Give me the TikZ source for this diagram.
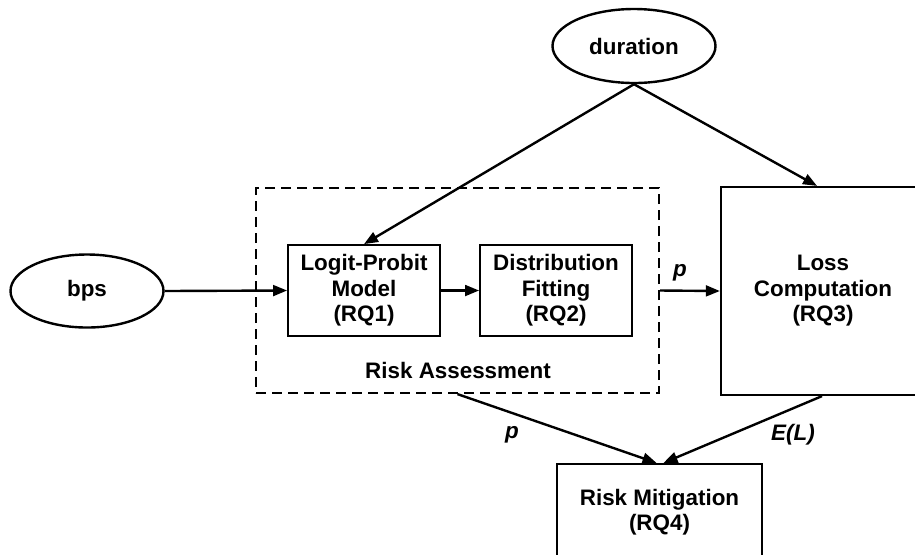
\documentclass[tikz,border=0pt]{standalone}
\usepackage{fontspec}
\setmainfont{Liberation Sans}
\usetikzlibrary{arrows.meta,shapes.geometric}
\tikzset{
  base/.style={font=\fontsize{11.2}{12.75}\selectfont\bfseries, align=center, inner sep=0pt},
  oval/.style={base, ellipse, draw, line width=1.2pt},
  proc/.style={base, rectangle, draw, line width=0.9pt},
  bigproc/.style={proc, line width=1.1pt},
  group/.style={rectangle, draw, line width=1.1pt, dash pattern=on 5pt off 3pt, inner sep=0pt},
  lbl/.style={base, font=\fontsize{11.2}{12.75}\selectfont\bfseries\itshape},
  conn/.style={line width=1.2pt, -{Triangle[length=7pt,width=5.4pt]}}
}
\begin{document}
\begin{tikzpicture}[x=0.5pt,y=-0.5pt]
\useasboundingbox (0,0) rectangle (915,554);
\clip (0,0) rectangle (915,554);
\node[oval, minimum width=81.5pt, minimum height=37pt] (dur) at (634,46) {duration};
\node[oval, minimum width=76.5pt, minimum height=36.5pt] (bps) at (87,291) {bps};
\node[group, minimum width=201.5pt, minimum height=102.5pt] (risk) at (457.5,290.5) {};
\node[proc, minimum width=76pt, minimum height=45.5pt] (logit) at (364,290.5) {Logit-Probit\\Model\\(RQ1)};
\node[proc, minimum width=76pt, minimum height=45.5pt] (dist) at (556,290.5) {Distribution\\Fitting\\(RQ2)};
\node[base] (risklbl) at (458,370) {Risk Assessment};
\node[bigproc, minimum width=102pt, minimum height=104pt] (loss) at (823,291) {Loss\\Computation\\(RQ3)};
\node[bigproc, minimum width=102.5pt, minimum height=48pt] (mit) at (659.5,512) {Risk Mitigation\\(RQ4)};

\draw[conn] (dur.south) -- (logit.north);
\draw[conn] (dur.south) -- ([xshift=-3pt]loss.north);
\draw[conn] (bps.east) -- (logit.west);
\draw[conn] (logit.east) -- (dist.west);
\draw[conn] (risk.east) -- (loss.west);
\draw[conn] (risk.south) -- ([xshift=-1.5pt]mit.north);
\draw[conn] ([xshift=-0.5pt]loss.south) -- ([xshift=2pt]mit.north);

\node[lbl] (p1) at (680,273) {p};
\node[lbl] (p2) at (512,435) {p};
\node[lbl] (el) at (793,435) {E(L)};
\end{tikzpicture}
\end{document}
